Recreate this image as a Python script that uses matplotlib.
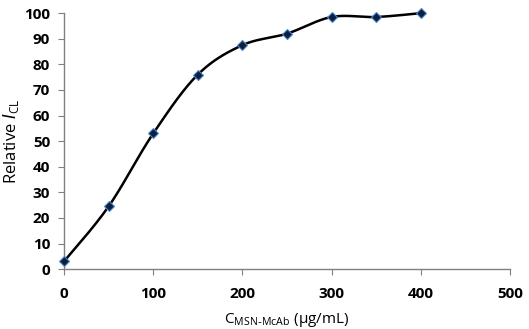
import numpy as np
import matplotlib
matplotlib.use("Agg")
import matplotlib.pyplot as plt

conc = [0, 50, 100, 150, 200, 250, 300, 350, 400]
rel_icl = [3, 24.5, 53, 76, 87.5, 92, 98.5, 98.5, 100]

def excel_smooth(x, y, n=40):
    x = np.asarray(x, float); y = np.asarray(y, float)
    xs, ys = [], []
    t = np.linspace(0, 1, n)
    for i in range(len(x) - 1):
        p0 = np.array([x[max(i-1, 0)], y[max(i-1, 0)]])
        p1 = np.array([x[i], y[i]])
        p2 = np.array([x[i+1], y[i+1]])
        p3 = np.array([x[min(i+2, len(x)-1)], y[min(i+2, len(x)-1)]])
        c1 = p1 + (p2 - p0) / 6
        c2 = p2 - (p3 - p1) / 6
        b = ((1-t)**3)[:, None]*p1 + (3*(1-t)**2*t)[:, None]*c1 + (3*(1-t)*t**2)[:, None]*c2 + (t**3)[:, None]*p2
        xs.extend(b[:, 0]); ys.extend(b[:, 1])
    return xs, ys

plt.rcParams['font.family'] = ['Open Sans', 'DejaVu Sans']
fig = plt.figure(figsize=(5.29, 3.29), dpi=100)
ax = fig.add_axes([0.121, 0.182, 0.843, 0.778])

sx, sy = excel_smooth(conc, rel_icl)
ax.plot(sx, sy, color='black', lw=1.8, zorder=2, clip_on=False)
ax.plot(conc, rel_icl, linestyle='none', marker='D', markersize=5,
        markerfacecolor='#0d1f3c', markeredgecolor='#4a86d0', markeredgewidth=0.8,
        zorder=3, clip_on=False)

ax.set_xlim(0, 500)
ax.set_ylim(0, 100)
ax.set_xticks(range(0, 501, 100))
ax.set_yticks(range(0, 101, 10))
for s in ['top', 'right']:
    ax.spines[s].set_visible(False)
for s in ['left', 'bottom']:
    ax.spines[s].set_color('#808080')
    ax.spines[s].set_linewidth(1.0)
ax.tick_params(direction='out', length=4, color='#808080', labelsize=11)
ax.tick_params(axis='x', pad=9)
ax.tick_params(axis='y', pad=6)
for lab in ax.get_xticklabels() + ax.get_yticklabels():
    lab.set_fontweight('bold')
ax.set_xlabel(r'C$_{\mathregular{MSN\text{-}McAb}}$ (μg/mL)', fontsize=11, labelpad=7)
ax.set_ylabel(r'Relative $\mathit{I}_{\mathregular{CL}}$', fontsize=12, labelpad=2)
fig.savefig('out.png', dpi=100)
